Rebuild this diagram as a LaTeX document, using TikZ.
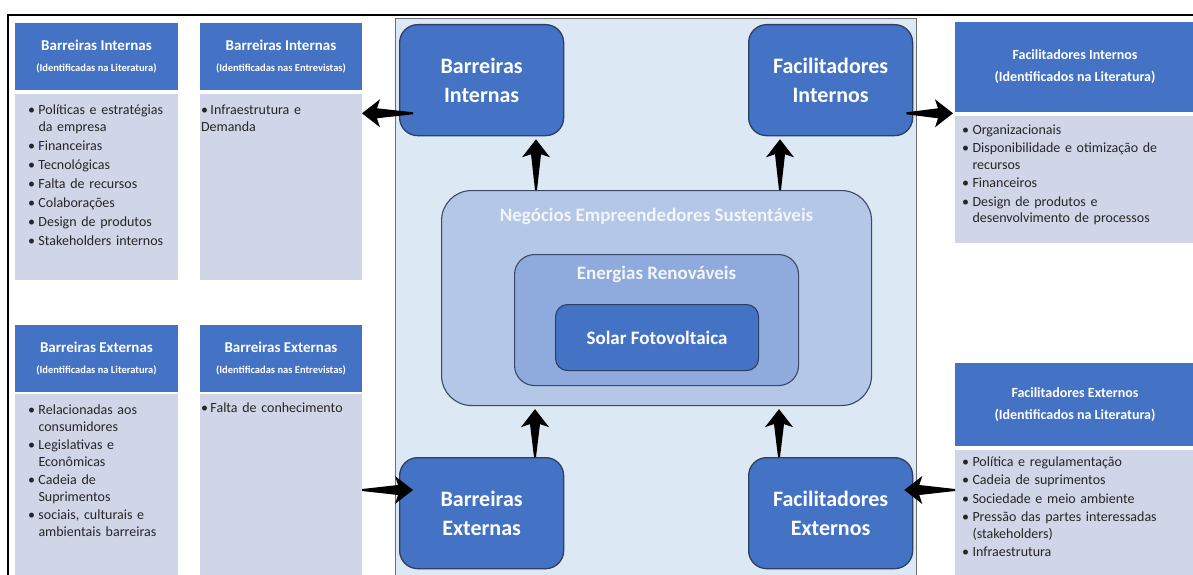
\documentclass[tikz,border=0pt]{standalone}
\usepackage{fontspec}
\setmainfont{Carlito}
\usetikzlibrary{calc}
\hyphenpenalty=10000
\exhyphenpenalty=10000
\definecolor{hdrblue}{HTML}{4472C4}
\definecolor{bodyc}{HTML}{D0D5E8}
\definecolor{panelc}{HTML}{DDE8F5}
\definecolor{panelb}{HTML}{6E6E6E}
\definecolor{negc}{HTML}{B4C7E7}
\definecolor{enec}{HTML}{8FAADC}
\definecolor{cbord}{HTML}{2F3F5F}
\definecolor{txtc}{HTML}{262626}
\definecolor{negtxt}{HTML}{F2F5FA}
\newcommand\litem[1]{\par\hangindent=10.5pt\hangafter=1\noindent\makebox[10.5pt][l]{\textbullet}\strut#1\par}
\newcommand\litemflat[1]{\par\noindent\makebox[9.5pt][l]{\textbullet}\strut#1\par}
\newcommand\fatarrow[2]{%
  \coordinate (fah) at ($(#2)!15pt!(#1)$);
  \coordinate (fab) at ($(#2)!18pt!(#1)$);
  \fill[black] ($(#1)!1pt!90:(#2)$) -- ($(fah)!5pt!90:(#2)$) -- ($(fab)!14pt!90:(#2)$) -- (#2)
    -- ($(fab)!14pt!-90:(#2)$) -- ($(fah)!5pt!-90:(#2)$) -- ($(#1)!1pt!-90:(#2)$) -- cycle;}
\begin{document}
\begin{tikzpicture}[x=1pt,y=-1pt,
  hdr/.style={fill=hdrblue, text=white, align=center, anchor=north west, inner sep=0pt, outer sep=0pt},
  hdrl/.style={hdr, font=\bfseries\fontsize{15}{21}\selectfont, minimum height=67pt},
  hdrr/.style={hdr, font=\bfseries\fontsize{14}{22}\selectfont, minimum width=240pt},
  bodybox/.style={fill=bodyc, anchor=north west, inner sep=0pt, outer sep=0pt},
  lst/.style={anchor=north west, inner sep=0pt, outer sep=0pt, text width=#1, align=left, font=\fontsize{14}{16.5}\selectfont, text=txtc},
  cbox/.style={fill=hdrblue, draw=cbord, line width=1.3pt, rounded corners=18pt, text=white, font=\bfseries\fontsize{22}{29}\selectfont, align=center, anchor=north west, inner sep=0pt, minimum width=164pt, minimum height=111pt},
  ring/.style={draw=cbord!85!gray, line width=1.1pt, anchor=north west, inner sep=0pt},
  ctitle/.style={text=negtxt, font=\bfseries\fontsize{19}{22}\selectfont, inner sep=0pt}
]
\useasboundingbox (0,0) rectangle (1193,575);
\fill[white] (0,0) rectangle (1193,575);
% frame
\draw[line width=1.2pt] (8,580) -- (8,15) -- (1200,15);
% central panel
\node[fill=panelc, draw=panelb, line width=1pt, anchor=north west, inner sep=0pt, minimum width=521pt, minimum height=575pt] (panel) at (395,18) {};
% left headers and bodies
\node[hdrl, minimum width=163pt] (h1) at (15,23) {Barreiras Internas\\{\fontsize{10.5}{21}\selectfont (Identificadas na Literatura)}};
\node[bodybox, minimum width=163pt, minimum height=186pt] (b1) at (15,94) {};
\node[hdrl, minimum width=162pt] (h2) at (200,23) {Barreiras Internas\\{\fontsize{10.5}{21}\selectfont (Identificadas nas Entrevistas)}};
\node[bodybox, minimum width=162pt, minimum height=186pt] (b2) at (200,94) {};
\node[hdrl, minimum width=163pt] (h3) at (15,325) {Barreiras Externas\\{\fontsize{10.5}{21}\selectfont (Identificadas na Literatura)}};
\node[bodybox, minimum width=163pt, minimum height=200pt] (b3) at (15,394) {};
\node[hdrl, minimum width=162pt] (h4) at (200,325) {Barreiras Externas\\{\fontsize{10.5}{21}\selectfont (Identificadas nas Entrevistas)}};
\node[bodybox, minimum width=162pt, minimum height=200pt] (b4) at (200,394) {};
% right headers and bodies
\node[hdrr, minimum height=90pt] (hr1) at (955,22) {Facilitadores Internos\\(Identificados na Literatura)};
\node[bodybox, minimum width=240pt, minimum height=127pt] (br1) at (955,116) {};
\node[hdrr, minimum height=83pt] (hr2) at (955,363) {Facilitadores Externos\\(Identificados na Literatura)};
\node[bodybox, minimum width=240pt, minimum height=140pt] (br2) at (955,450) {};
% lists
\node[lst=150pt] (l1) at (28,96) {\setlength\parskip{2.5pt}%
  \litem{Políticas e estratégias\newline da empresa}\litem{Financeiras}\litem{Tecnológicas}\litem{Falta de recursos}\litem{Colaborações}\litem{Design de produtos}\litem{Stakeholders internos}};
\node[lst=155pt] (l2) at (201,96) {\setlength\parskip{2.5pt}%
  \litemflat{Infraestrutura e\newline Demanda}};
\node[lst=150pt] (l3) at (28,396) {\setlength\parskip{2pt}%
  \litem{Relacionadas aos\newline consumidores}\litem{Legislativas e\newline Econômicas}\litem{Cadeia de\newline Suprimentos}\litem{sociais, culturais e\newline ambientais barreiras}};
\node[lst=155pt] (l4) at (201,396) {\litemflat{Falta de conhecimento}};
\node[lst=228pt] (lr1) at (962,116) {\setlength\parskip{2pt}%
  \litem{Organizacionais}\litem{Disponibilidade e otimização de\newline recursos}\litem{Financeiros}\litem{Design de produtos e\newline desenvolvimento de processos}};
\node[lst=228pt] (lr2) at (962,447.5) {\setlength\parskip{2pt}%
  \litem{Política e regulamentação}\litem{Cadeia de suprimentos}\litem{Sociedade e meio ambiente}\litem{Pressão das partes interessadas\newline (stakeholders)}\litem{Infraestrutura}};
% nested central boxes
\node[ring, fill=negc, rounded corners=30pt, minimum width=430pt, minimum height=215pt] (neg) at (441,190) {};
\node[ctitle] (negt) at ($(neg.north)+(0,26)$) {Negócios Empreendedores Sustentáveis};
\node[ring, fill=enec, rounded corners=20pt, minimum width=284pt, minimum height=131pt] (ene) at (514,254) {};
\node[ctitle] (enet) at ($(ene.north)+(0,20)$) {Energias Renováveis};
\node[ring, fill=hdrblue, draw=cbord, rounded corners=12pt, minimum width=203pt, minimum height=66pt, text=white, font=\bfseries\fontsize{19}{22}\selectfont] (sol) at (555,304) {Solar Fotovoltaica};
% corner boxes
\node[cbox] (bi) at (399,24) {Barreiras\\Internas};
\node[cbox] (fi) at (748,24) {Facilitadores\\Internos};
\node[cbox] (be) at (399,457) {Barreiras\\Externas};
\node[cbox] (fe) at (748,457) {Facilitadores\\Externos};
% arrow endpoints
\coordinate (a1s) at ($(bi.south west)+(14,-23)$);
\coordinate (a1e) at (a1s -| b2.east);
\coordinate (a2s) at ($(fi.south east)+(-7,-23)$);
\coordinate (a2e) at ($(a2s -| br1.west)+(-2,0)$);
\coordinate (a3s) at ($(neg.north west)+(95,0)$);
\coordinate (a3e) at ($(a3s |- bi.south)+(0,3)$);
\coordinate (a4s) at ($(neg.north west)+(339,0)$);
\coordinate (a4e) at ($(a4s |- fi.south)+(0,3)$);
\coordinate (a5s) at ($(be.north west)+(136,0)$);
\coordinate (a5e) at ($(a5s |- neg.south)+(0,3)$);
\coordinate (a6s) at ($(fe.north west)+(31,0)$);
\coordinate (a6e) at ($(a6s |- neg.south)+(0,3)$);
\coordinate (a7e) at ($(be.north west)+(14,33)$);
\coordinate (a7s) at (a7e -| b4.east);
\coordinate (a8e) at ($(fe.north east)+(-9,33)$);
\coordinate (a8s) at (a8e -| br2.west);
\fatarrow{a1s}{a1e}
\fatarrow{a2s}{a2e}
\fatarrow{a3s}{a3e}
\fatarrow{a4s}{a4e}
\fatarrow{a5s}{a5e}
\fatarrow{a6s}{a6e}
\fatarrow{a7s}{a7e}
\fatarrow{a8s}{a8e}
\end{tikzpicture}
\end{document}
